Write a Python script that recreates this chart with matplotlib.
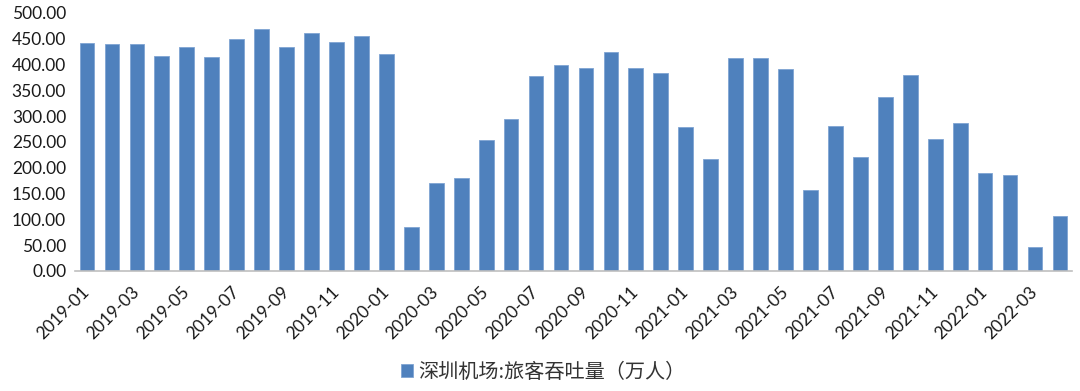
#!/usr/bin/env python
"""
Shenzhen airport monthly passenger throughput, bar chart
"""
import numpy as np
import matplotlib
matplotlib.use("Agg")
import matplotlib.pyplot as plt

plt.rcParams['font.family'] = ['Lato', 'Noto Sans CJK SC', 'DejaVu Sans']

# months 2019-01 .. 2022-04
months = ["%d-%02d" % (y, m) for y in range(2019, 2023) for m in range(1, 13)][:40]
passengers = [442, 440, 440, 416, 434, 414, 449, 469, 434, 462, 443, 455,
              421, 86, 170, 181, 254, 295, 378, 399, 393, 425, 393, 383,
              278, 217, 412, 412, 392, 157, 280, 220, 337, 380, 256, 287,
              189, 185, 47, 107]
series_name = "深圳机场:旅客吞吐量（万人）"
yticks = np.arange(0, 501, 50)

fig = plt.figure(figsize=(10.8, 3.91), dpi=100)
ax = fig.add_axes([0.069, 0.307, 0.924, 0.66])

x = np.arange(len(months))
ax.bar(x, passengers, width=0.59, color='#4F81BD', edgecolor='#7FA4D3',
       linewidth=0.6, label=series_name)

ax.set_xlim(-0.5, len(months) - 0.5)
ax.set_ylim(0, 500)
ax.set_yticks(yticks)
ax.set_yticklabels(["%.2f" % v for v in yticks], fontsize=12.5, color='#1a1a1a')
ax.set_xticks(x[::2])
ax.set_xticklabels(months[::2], rotation=45, ha='right', va='center',
                   rotation_mode='anchor', fontsize=12.5, color='#1a1a1a')

for side in ['top', 'right', 'left']:
    ax.spines[side].set_visible(False)
ax.spines['bottom'].set_color('#BFBFBF')
ax.spines['bottom'].set_linewidth(1.2)
ax.tick_params(axis='both', length=0)
ax.tick_params(axis='x', pad=13)
ax.tick_params(axis='y', pad=6)

leg = fig.legend(loc='lower center', bbox_to_anchor=(0.503, -0.025), frameon=False,
                 handlelength=0.6, handleheight=0.6, handletextpad=0.3,
                 prop={'family': ['Noto Sans CJK SC', 'DejaVu Sans'], 'size': 14.5})
for t in leg.get_texts():
    t.set_color('#333333')

plt.savefig('out.png', dpi=100)
plt.close(fig)
